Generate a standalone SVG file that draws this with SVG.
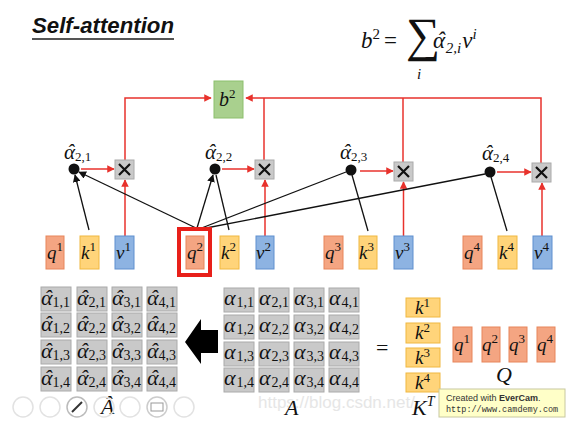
<svg xmlns="http://www.w3.org/2000/svg" width="570" height="421" viewBox="0 0 570 421">
<style>
.m{font-family:"Liberation Serif","DejaVu Serif",serif;font-style:italic;fill:#111}
.u{font-family:"Liberation Serif","DejaVu Serif",serif;fill:#111}
.q{fill:#f4a582;stroke:#e8855a;stroke-width:1}
.k{fill:#ffd47a;stroke:#f0b840;stroke-width:1}
.v{fill:#8db3e2;stroke:#5f8fcf;stroke-width:1}
.g{fill:#c9c9c9;stroke:#aaaaaa;stroke-width:1}
.red{stroke:#e8322c;stroke-width:1.5;fill:none}
.blk{stroke:#111;stroke-width:1.3;fill:none}
.cell{font-size:22px}
.sub{font-size:13px;font-style:normal}
.cs{font-size:14px;font-style:normal}
.ic{fill:none;stroke:#e2e2e2;stroke-width:1.5}
</style>
<defs>
<marker id="ar" viewBox="0 0 10 10" refX="9" refY="5" markerWidth="5" markerHeight="5" orient="auto"><path d="M0,0 L10,5 L0,10 z" fill="#e8322c"/></marker>
<marker id="ab" viewBox="0 0 10 10" refX="9" refY="5" markerWidth="6" markerHeight="6" orient="auto"><path d="M0,0 L10,5 L0,10 z" fill="#111"/></marker>
</defs>
<rect width="570" height="421" fill="#fff"/>

<g id="title">
<text x="32" y="33" font-family="Liberation Sans,Arial,sans-serif" font-weight="bold" font-style="italic" font-size="22" textLength="142" lengthAdjust="spacingAndGlyphs" fill="#111">Self-attention</text>
<line x1="32" y1="39" x2="174" y2="39" stroke="#555" stroke-width="2"/>
</g>

<g id="formula" class="m">
<text x="361" y="48" font-size="23">b<tspan font-size="15" dy="-9" font-style="normal">2</tspan><tspan dy="9" font-style="normal" dx="4">=</tspan></text>
<text x="406" y="51" font-size="48" class="u" font-style="normal">∑</text>
<text x="417" y="79" font-size="15">i</text>
<text x="433" y="48" font-size="23">α<tspan dx="-8">ˆ</tspan><tspan font-size="15" dx="1" dy="5">2,i</tspan><tspan dy="-5" dx="1">v</tspan><tspan font-size="15" dy="-9">i</tspan></text>
</g>

<g id="connectors">
<polyline class="red" points="125,160 125,98 211,98" marker-end="url(#ar)"/>
<polyline class="red" points="541,163 541,98 246,98" marker-end="url(#ar)"/>
<line class="red" x1="264" y1="160" x2="264" y2="98"/>
<line class="red" x1="403" y1="162" x2="403" y2="98"/>
<line class="red" x1="125" y1="236" x2="125" y2="180" marker-end="url(#ar)"/>
<line class="red" x1="265" y1="236" x2="265" y2="180" marker-end="url(#ar)"/>
<line class="red" x1="403.5" y1="236" x2="403.5" y2="182" marker-end="url(#ar)"/>
<line class="red" x1="542" y1="236" x2="542" y2="183" marker-end="url(#ar)"/>
<line class="red" x1="81" y1="169" x2="114" y2="169" marker-end="url(#ar)"/>
<line class="red" x1="222" y1="169" x2="254" y2="169" marker-end="url(#ar)"/>
<line class="red" x1="360" y1="171" x2="393" y2="171" marker-end="url(#ar)"/>
<line class="red" x1="497" y1="172" x2="531" y2="172" marker-end="url(#ar)"/>
<line class="blk" x1="89" y1="230" x2="75" y2="175" marker-end="url(#ab)"/>
<line class="blk" x1="196" y1="228" x2="79" y2="172" marker-end="url(#ab)"/>
<line class="blk" x1="197" y1="228" x2="213" y2="175" marker-end="url(#ab)"/>
<line class="blk" x1="229" y1="230" x2="216" y2="175"/>
<line class="blk" x1="199" y1="229" x2="346" y2="172"/>
<line class="blk" x1="368" y1="231" x2="352" y2="175"/>
<line class="blk" x1="201" y1="229" x2="485" y2="174"/>
<line class="blk" x1="507" y1="231" x2="491" y2="177"/>
</g>

<g id="b2">
<rect x="214" y="81" width="29" height="37" fill="#a9d08e" stroke="#8cbf6d"/>
<text x="219" y="106" class="m" font-size="20">b<tspan font-size="13" dy="-8" font-style="normal">2</tspan></text>
</g>

<g id="mult">
<g class="g"><rect x="115" y="160" width="19" height="19"/><rect x="255" y="160" width="19" height="19"/><rect x="394" y="162" width="19" height="19"/><rect x="532" y="163" width="19" height="19"/></g>
<g stroke="#111" stroke-width="2.2">
<path d="M119,164 L130,175 M130,164 L119,175"/>
<path d="M259,164 L270,175 M270,164 L259,175"/>
<path d="M398,166 L409,177 M409,166 L398,177"/>
<path d="M536,167 L547,178 M547,167 L536,178"/>
</g>
</g>

<g id="alphas">
<circle cx="74" cy="169" r="5.5" fill="#111"/>
<circle cx="215" cy="169" r="5.5" fill="#111"/>
<circle cx="351" cy="170" r="5.5" fill="#111"/>
<circle cx="490" cy="172" r="5.5" fill="#111"/>
<g class="m" font-size="21">
<text x="64" y="159">α<tspan dx="-8">ˆ</tspan><tspan class="sub" font-size="15" dx="1" dy="2">2,1</tspan></text>
<text x="205" y="159">α<tspan dx="-8">ˆ</tspan><tspan class="sub" font-size="15" dx="1" dy="2">2,2</tspan></text>
<text x="340" y="159">α<tspan dx="-8">ˆ</tspan><tspan class="sub" font-size="15" dx="1" dy="2">2,3</tspan></text>
<text x="482" y="160">α<tspan dx="-8">ˆ</tspan><tspan class="sub" font-size="15" dx="1" dy="2">2,4</tspan></text>
</g>
</g>

<g id="vectors" class="m" font-size="19">
<rect class="q" x="46" y="236" width="18" height="33"/><text x="47" y="259">q<tspan class="sub" dy="-8">1</tspan></text>
<rect class="k" x="80" y="236" width="19" height="33"/><text x="81" y="259">k<tspan class="sub" dy="-8">1</tspan></text>
<rect class="v" x="115" y="236" width="19" height="33"/><text x="116" y="259">v<tspan class="sub" dy="-8">1</tspan></text>
<rect x="179" y="229" width="31" height="46" fill="none" stroke="#e8201a" stroke-width="4"/>
<rect class="q" x="186" y="236" width="18" height="33"/><text x="187" y="259">q<tspan class="sub" dy="-8">2</tspan></text>
<rect class="k" x="220" y="236" width="19" height="33"/><text x="221" y="259">k<tspan class="sub" dy="-8">2</tspan></text>
<rect class="v" x="256" y="236" width="18" height="33"/><text x="256" y="259">v<tspan class="sub" dy="-8">2</tspan></text>
<rect class="q" x="324" y="236" width="19" height="33"/><text x="325" y="259">q<tspan class="sub" dy="-8">3</tspan></text>
<rect class="k" x="359" y="236" width="18" height="33"/><text x="359" y="259">k<tspan class="sub" dy="-8">3</tspan></text>
<rect class="v" x="394" y="236" width="19" height="33"/><text x="395" y="259">v<tspan class="sub" dy="-8">3</tspan></text>
<rect class="q" x="463" y="236" width="19" height="33"/><text x="464" y="259">q<tspan class="sub" dy="-8">4</tspan></text>
<rect class="k" x="498" y="236" width="19" height="33"/><text x="499" y="259">k<tspan class="sub" dy="-8">4</tspan></text>
<rect class="v" x="533" y="236" width="19" height="33"/><text x="534" y="259">v<tspan class="sub" dy="-8">4</tspan></text>
</g>

<g id="Ahat">
<g class="g">
<rect x="41" y="287" width="30" height="24"/><rect x="77" y="287" width="30" height="24"/><rect x="112" y="287" width="30" height="24"/><rect x="147" y="287" width="30" height="24"/>
<rect x="41" y="313" width="30" height="24"/><rect x="77" y="313" width="30" height="24"/><rect x="112" y="313" width="30" height="24"/><rect x="147" y="313" width="30" height="24"/>
<rect x="41" y="340" width="30" height="24"/><rect x="77" y="340" width="30" height="24"/><rect x="112" y="340" width="30" height="24"/><rect x="147" y="340" width="30" height="24"/>
<rect x="41" y="367" width="30" height="24"/><rect x="77" y="367" width="30" height="24"/><rect x="112" y="367" width="30" height="24"/><rect x="147" y="367" width="30" height="24"/>
</g>
<g class="m cell">
<text x="41" y="305">α<tspan dx="-8.3">ˆ</tspan><tspan class="cs" dx="1" dy="2">1,1</tspan></text><text x="77" y="305">α<tspan dx="-8.3">ˆ</tspan><tspan class="cs" dx="1" dy="2">2,1</tspan></text><text x="112" y="305">α<tspan dx="-8.3">ˆ</tspan><tspan class="cs" dx="1" dy="2">3,1</tspan></text><text x="147" y="305">α<tspan dx="-8.3">ˆ</tspan><tspan class="cs" dx="1" dy="2">4,1</tspan></text>
<text x="41" y="331">α<tspan dx="-8.3">ˆ</tspan><tspan class="cs" dx="1" dy="2">1,2</tspan></text><text x="77" y="331">α<tspan dx="-8.3">ˆ</tspan><tspan class="cs" dx="1" dy="2">2,2</tspan></text><text x="112" y="331">α<tspan dx="-8.3">ˆ</tspan><tspan class="cs" dx="1" dy="2">3,2</tspan></text><text x="147" y="331">α<tspan dx="-8.3">ˆ</tspan><tspan class="cs" dx="1" dy="2">4,2</tspan></text>
<text x="41" y="358">α<tspan dx="-8.3">ˆ</tspan><tspan class="cs" dx="1" dy="2">1,3</tspan></text><text x="77" y="358">α<tspan dx="-8.3">ˆ</tspan><tspan class="cs" dx="1" dy="2">2,3</tspan></text><text x="112" y="358">α<tspan dx="-8.3">ˆ</tspan><tspan class="cs" dx="1" dy="2">3,3</tspan></text><text x="147" y="358">α<tspan dx="-8.3">ˆ</tspan><tspan class="cs" dx="1" dy="2">4,3</tspan></text>
<text x="41" y="385">α<tspan dx="-8.3">ˆ</tspan><tspan class="cs" dx="1" dy="2">1,4</tspan></text><text x="77" y="385">α<tspan dx="-8.3">ˆ</tspan><tspan class="cs" dx="1" dy="2">2,4</tspan></text><text x="112" y="385">α<tspan dx="-8.3">ˆ</tspan><tspan class="cs" dx="1" dy="2">3,4</tspan></text><text x="147" y="385">α<tspan dx="-8.3">ˆ</tspan><tspan class="cs" dx="1" dy="2">4,4</tspan></text>
</g>
<text x="101" y="414" class="m" font-size="22">Â</text>
</g>

<g id="bigarrow">
<path d="M185,342 L201,319 L201,330 L218,330 L218,353 L201,353 L201,364 z" fill="#000"/>
</g>

<g id="A">
<g class="g">
<rect x="224" y="288" width="30" height="24"/><rect x="259" y="288" width="30" height="24"/><rect x="294" y="288" width="30" height="24"/><rect x="329" y="288" width="30" height="24"/>
<rect x="224" y="315" width="30" height="24"/><rect x="259" y="315" width="30" height="24"/><rect x="294" y="315" width="30" height="24"/><rect x="329" y="315" width="30" height="24"/>
<rect x="224" y="342" width="30" height="24"/><rect x="259" y="342" width="30" height="24"/><rect x="294" y="342" width="30" height="24"/><rect x="329" y="342" width="30" height="24"/>
<rect x="224" y="368" width="30" height="24"/><rect x="259" y="368" width="30" height="24"/><rect x="294" y="368" width="30" height="24"/><rect x="329" y="368" width="30" height="24"/>
</g>
<g class="m cell">
<text x="224" y="305">α<tspan class="cs" dx="1" dy="2">1,1</tspan></text><text x="259" y="305">α<tspan class="cs" dx="1" dy="2">2,1</tspan></text><text x="294" y="305">α<tspan class="cs" dx="1" dy="2">3,1</tspan></text><text x="329" y="305">α<tspan class="cs" dx="1" dy="2">4,1</tspan></text>
<text x="224" y="332">α<tspan class="cs" dx="1" dy="2">1,2</tspan></text><text x="259" y="332">α<tspan class="cs" dx="1" dy="2">2,2</tspan></text><text x="294" y="332">α<tspan class="cs" dx="1" dy="2">3,2</tspan></text><text x="329" y="332">α<tspan class="cs" dx="1" dy="2">4,2</tspan></text>
<text x="224" y="359">α<tspan class="cs" dx="1" dy="2">1,3</tspan></text><text x="259" y="359">α<tspan class="cs" dx="1" dy="2">2,3</tspan></text><text x="294" y="359">α<tspan class="cs" dx="1" dy="2">3,3</tspan></text><text x="329" y="359">α<tspan class="cs" dx="1" dy="2">4,3</tspan></text>
<text x="224" y="385">α<tspan class="cs" dx="1" dy="2">1,4</tspan></text><text x="259" y="385">α<tspan class="cs" dx="1" dy="2">2,4</tspan></text><text x="294" y="385">α<tspan class="cs" dx="1" dy="2">3,4</tspan></text><text x="329" y="385">α<tspan class="cs" dx="1" dy="2">4,4</tspan></text>
</g>
<text x="258" y="408" font-family="Liberation Sans,Arial,sans-serif" font-size="17" fill="#e6e6e6">https://blog.csdn.net/</text>
<text x="285" y="415" class="m" font-size="22">A</text>
</g>

<text x="376" y="355" class="u" font-size="22">=</text>

<g id="KT" class="m" font-size="19">
<rect class="k" x="406" y="298" width="34" height="19"/><text x="415" y="314">k<tspan class="sub" dy="-7">1</tspan></text>
<rect class="k" x="406" y="323" width="34" height="20"/><text x="415" y="339">k<tspan class="sub" dy="-7">2</tspan></text>
<rect class="k" x="406" y="348" width="34" height="19"/><text x="415" y="364">k<tspan class="sub" dy="-7">3</tspan></text>
<rect class="k" x="406" y="373" width="34" height="19"/><text x="415" y="389">k<tspan class="sub" dy="-7">4</tspan></text>
<text x="412" y="415" font-size="22">K<tspan font-size="14" dy="-9">T</tspan></text>
</g>

<g id="Q" class="m" font-size="19">
<rect class="q" x="453" y="327" width="19" height="35"/><text x="454" y="351">q<tspan class="sub" dy="-8">1</tspan></text>
<rect class="q" x="482" y="327" width="18" height="35"/><text x="482" y="351">q<tspan class="sub" dy="-8">2</tspan></text>
<rect class="q" x="509" y="327" width="18" height="35"/><text x="509" y="351">q<tspan class="sub" dy="-8">3</tspan></text>
<rect class="q" x="537" y="327" width="18" height="35"/><text x="537" y="351">q<tspan class="sub" dy="-8">4</tspan></text>
<text x="496" y="382" font-size="22">Q</text>
</g>

<g id="evercam">
<rect x="439" y="389" width="126" height="28" fill="#ffffc8" stroke="#c8c8a0"/>
<text x="446" y="401" font-family="Liberation Sans,Arial,sans-serif" font-size="9" fill="#333">Created with <tspan font-weight="bold">EverCam</tspan>.</text>
<text x="446" y="412" font-family="Liberation Mono,monospace" font-size="8.5" fill="#333">http://www.camdemy.com</text>
</g>

<g id="toolbar">
<circle class="ic" cx="23" cy="407" r="10"/>
<circle class="ic" cx="50" cy="407" r="10"/>
<circle cx="77" cy="407" r="10" fill="none" stroke="#bbb" stroke-width="1.5"/>
<line x1="72" y1="412" x2="82" y2="402" stroke="#333" stroke-width="2"/>
<circle class="ic" cx="104" cy="407" r="10"/>
<circle class="ic" cx="130" cy="407" r="10"/>
<circle cx="157" cy="407" r="10" fill="none" stroke="#ccc" stroke-width="1.5"/>
<rect x="151" y="403" width="12" height="8" fill="none" stroke="#999"/>
<circle class="ic" cx="184" cy="407" r="10"/>
</g>
</svg>
